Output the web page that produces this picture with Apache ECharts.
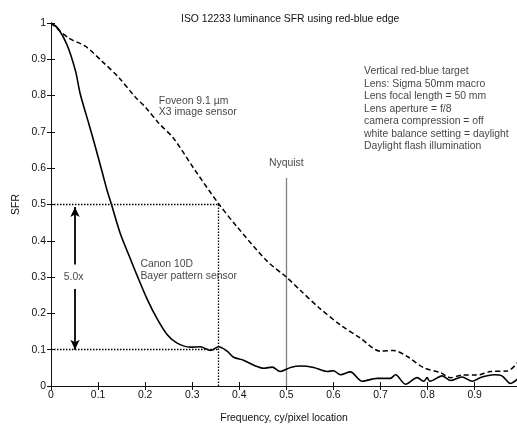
<!DOCTYPE html>
<html>
<head>
<meta charset="utf-8">
<script src="https://cdn.jsdelivr.net/npm/echarts@6/dist/echarts.min.js"></script>
<style>
  html, body { margin: 0; padding: 0; background: #fff; }
  #chart { width: 517px; height: 428px; }
</style>
</head>
<body>
<div id="chart"></div>
<script>
// Canon 10D (Bayer) - solid curve
const canonFreq = [0, 0.015, 0.034, 0.052, 0.062, 0.080, 0.094, 0.109, 0.12, 0.128, 0.147, 0.169, 0.183, 0.204, 0.225, 0.247, 0.268, 0.296, 0.317, 0.339, 0.356, 0.374, 0.388, 0.409, 0.431, 0.452, 0.470, 0.487, 0.509, 0.530, 0.558, 0.587, 0.60, 0.615, 0.636, 0.661, 0.693, 0.721, 0.732, 0.753, 0.778, 0.792, 0.799, 0.805, 0.831, 0.849, 0.873, 0.895, 0.912, 0.941, 0.958, 0.976, 0.991];
const canonSfr = [1, 0.985, 0.94, 0.868, 0.805, 0.724, 0.66, 0.588, 0.535, 0.502, 0.421, 0.349, 0.304, 0.240, 0.186, 0.141, 0.118, 0.107, 0.108, 0.098, 0.108, 0.096, 0.079, 0.071, 0.057, 0.049, 0.052, 0.040, 0.051, 0.055, 0.051, 0.040, 0.042, 0.031, 0.039, 0.013, 0.021, 0.021, 0.031, 0.005, 0.023, 0.013, 0.023, 0.013, 0.028, 0.015, 0.025, 0.013, 0.023, 0.031, 0.028, 0.007, 0.019];

// Foveon X3 - dashed curve
const foveonFreq = [0, 0.038, 0.073, 0.108, 0.144, 0.179, 0.20, 0.229, 0.26, 0.303, 0.355, 0.395, 0.459, 0.5, 0.53, 0.57, 0.615, 0.657, 0.70, 0.727, 0.756, 0.791, 0.827, 0.849, 0.873, 0.905, 0.934, 0.969, 0.991];
const foveonSfr = [1, 0.958, 0.936, 0.895, 0.85, 0.796, 0.769, 0.724, 0.683, 0.60, 0.504, 0.439, 0.344, 0.30, 0.263, 0.215, 0.168, 0.132, 0.096, 0.098, 0.082, 0.051, 0.037, 0.023, 0.030, 0.030, 0.040, 0.041, 0.064];

const xTicks = [0, 0.1, 0.2, 0.3, 0.4, 0.5, 0.6, 0.7, 0.8, 0.9];
const yTicks = [0, 0.1, 0.2, 0.3, 0.4, 0.5, 0.6, 0.7, 0.8, 0.9, 1];

// reference lines
const crossFreq = 0.355;
const highSfr = 0.5;
const lowSfr = 0.1;
const nyquistFreq = 0.5;
const nyquistTop = 0.573;
const arrowFreq = 0.051;
const arrowUp = [0.335, 0.493];
const arrowDown = [0.267, 0.1];

// text notes
const noteText = [
  "Foveon 9.1 \u00b5m\nX3 image sensor",
  "Canon 10D\nBayer pattern sensor",
  "Vertical red-blue target\nLens: Sigma 50mm macro\nLens focal length = 50 mm\nLens aperture = f/8\ncamera compression = off\nwhite balance setting = daylight\nDaylight flash illumination",
  "Nyquist",
  "5.0x"
];
const noteX = [0.229, 0.19, 0.665, 0.5, 0.048];
const noteY = [0.80, 0.351, 0.884, 0.615, 0.299];
const noteAlign = ["left", "left", "left", "center", "center"];
const noteVAlign = ["top", "top", "top", "middle", "middle"];
const noteLineHeight = [11, 11.5, 12.5, 12, 12];

const FONT = "Liberation Sans, Arial, sans-serif";
const FS = 10.4;
const INK = "#111";

const chart = echarts.init(document.getElementById("chart"));

const xAxisBase = {
  type: "value",
  min: 0,
  max: 0.99,
  interval: 0.1,
  splitLine: { show: false },
  axisLine: { lineStyle: { color: INK, width: 1 } },
  axisTick: { inside: true, length: 4, lineStyle: { color: INK } },
};
const yAxisBase = {
  type: "value",
  min: 0,
  max: 1,
  interval: 0.1,
  splitLine: { show: false },
  axisLine: { lineStyle: { color: INK, width: 1 } },
  axisTick: { inside: true, length: 4, lineStyle: { color: INK } },
};

const option = {
  animation: false,
  backgroundColor: "#fff",
  title: {
    text: "ISO 12233 luminance SFR using red-blue edge",
    left: 176,
    top: 9,
    textStyle: { fontFamily: FONT, fontSize: FS, fontWeight: "normal", color: INK },
  },
  grid: { left: 51, right: 0, top: 23, bottom: 36 },
  xAxis: [
    Object.assign({}, xAxisBase, {
      position: "bottom",
      name: "Frequency, cy/pixel location",
      nameLocation: "middle",
      nameGap: 27,
      nameTextStyle: { fontFamily: FONT, fontSize: FS, color: INK },
      axisLabel: {
        fontFamily: FONT, fontSize: FS, color: INK, margin: 4,
        showMaxLabel: false,
        formatter: (v) => (xTicks.includes(Math.round(v * 10) / 10) ? String(Math.round(v * 10) / 10) : ""),
      },
    }),
    Object.assign({}, xAxisBase, { position: "top", axisLabel: { show: false } }),
  ],
  yAxis: [
    Object.assign({}, yAxisBase, {
      position: "left",
      name: "SFR",
      nameLocation: "middle",
      nameRotate: 90,
      nameGap: 30,
      nameTextStyle: { fontFamily: FONT, fontSize: FS, color: INK },
      axisLabel: {
        fontFamily: FONT, fontSize: FS, color: INK, margin: 5,
        formatter: (v) => String(Math.round(v * 10) / 10),
      },
    }),
    Object.assign({}, yAxisBase, {
      position: "right",
      axisLine: { show: false },
      axisLabel: { show: false },
    }),
  ],
  series: [
    {
      name: "Canon 10D",
      type: "line",
      data: canonFreq.map((f, i) => [f, canonSfr[i]]),
      showSymbol: false,
      smooth: 0.3,
      lineStyle: { color: "#000", width: 1.6 },
      z: 5,
    },
    {
      name: "Foveon",
      type: "line",
      data: foveonFreq.map((f, i) => [f, foveonSfr[i]]),
      showSymbol: false,
      smooth: 0.3,
      lineStyle: { color: "#000", width: 1.5, type: [5, 3] },
      z: 5,
    },
    {
      name: "refs",
      type: "line",
      data: [],
      markLine: {
        silent: true,
        animation: false,
        symbol: ["none", "none"],
        label: { show: false },
        lineStyle: { color: "#000", type: [1.5, 1.5], width: 1.3 },
        data: [
          [{ coord: [0, highSfr] }, { coord: [crossFreq, highSfr] }],
          [{ coord: [0, lowSfr] }, { coord: [crossFreq, lowSfr] }],
          [{ coord: [crossFreq, 0] }, { coord: [crossFreq, highSfr] }],
          [
            { coord: [nyquistFreq, 0], lineStyle: { color: "#808080", type: "solid", width: 1.3 } },
            { coord: [nyquistFreq, nyquistTop] },
          ],
        ],
      },
    },
    {
      name: "arrows",
      type: "line",
      data: [],
      markLine: {
        silent: true,
        animation: false,
        symbol: ["none", "arrow"],
        symbolSize: [7, 10],
        label: { show: false },
        lineStyle: { color: "#000", type: "solid", width: 1.8 },
        data: [
          [{ coord: [arrowFreq, arrowUp[0]] }, { coord: [arrowFreq, arrowUp[1]] }],
          [{ coord: [arrowFreq, arrowDown[0]] }, { coord: [arrowFreq, arrowDown[1]] }],
        ],
      },
    },
    {
      name: "notes",
      type: "scatter",
      symbolSize: 0,
      silent: true,
      data: noteText.map((t, i) => ({
        value: [noteX[i], noteY[i]],
        label: {
          show: true,
          formatter: t,
          position: [0, 0],
          align: noteAlign[i],
          verticalAlign: noteVAlign[i],
          lineHeight: noteLineHeight[i],
          fontFamily: FONT,
          fontSize: FS,
          color: INK,
        },
      })),
      z: 6,
    },
  ],
};

chart.setOption(option);
</script>
</body>
</html>
